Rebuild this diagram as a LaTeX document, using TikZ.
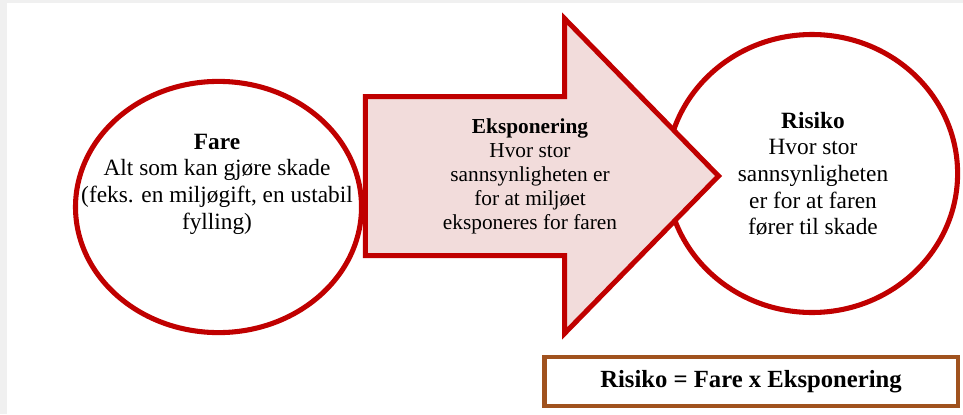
\documentclass[tikz,border=0pt]{standalone}
\usepackage{fontspec}
\setmainfont{Liberation Serif}

\definecolor{darkred}{RGB}{192,0,0}
\definecolor{pinkfill}{RGB}{242,220,219}
\definecolor{boxbrown}{RGB}{160,82,30}
\definecolor{bggray}{RGB}{240,240,240}

\begin{document}
\begin{tikzpicture}[x=0.75pt, y=-0.75pt,
  ring/.style={draw=darkred, line width=3.8pt},
  circtext/.style={align=center, inner sep=0pt, font=\fontsize{17.5}{20}\selectfont}]
  \useasboundingbox (0,0) rectangle (963,414);
  \fill[bggray] (0,0) rectangle (963,414);
  \fill[white] (7,3) rectangle (963,414);
  % the two circles
  \draw[ring] (218.5,207) ellipse (143 and 125.6);
  \draw[ring] (812,173.5) ellipse (145.6 and 139);
  % the arrow, on top of the right circle
  \draw[darkred, fill=pinkfill, line width=3.75pt, line join=miter]
    (365.3,96.7) -- (564.5,96.7) -- (564.5,18.5) -- (718.5,176) -- (564.5,333.5) -- (564.5,255.5) -- (365.3,255.5) -- cycle;
  \node[circtext] (fare) at (217,184)
    {\textbf{Fare}\\Alt som kan gjøre skade\\(feks. en miljøgift, en ustabil\\fylling)};
  \node[circtext, font=\fontsize{16}{18}\selectfont] (eksponering) at (530,176)
    {\textbf{Eksponering}\\Hvor stor\\sannsynligheten er\\for at miljøet\\eksponeres for faren};
  \node[circtext] (risiko) at (813,174)
    {\textbf{Risiko}\\Hvor stor\\sannsynligheten\\er for at faren\\fører til skade};
  % formula box
  \draw[boxbrown, line width=3.2pt] (544.5,357) rectangle (957.8,406);
  \node[font=\bfseries\fontsize{18.5}{22}\selectfont] (formel) at (751,382)
    {Risiko = Fare x Eksponering};
\end{tikzpicture}
\end{document}
